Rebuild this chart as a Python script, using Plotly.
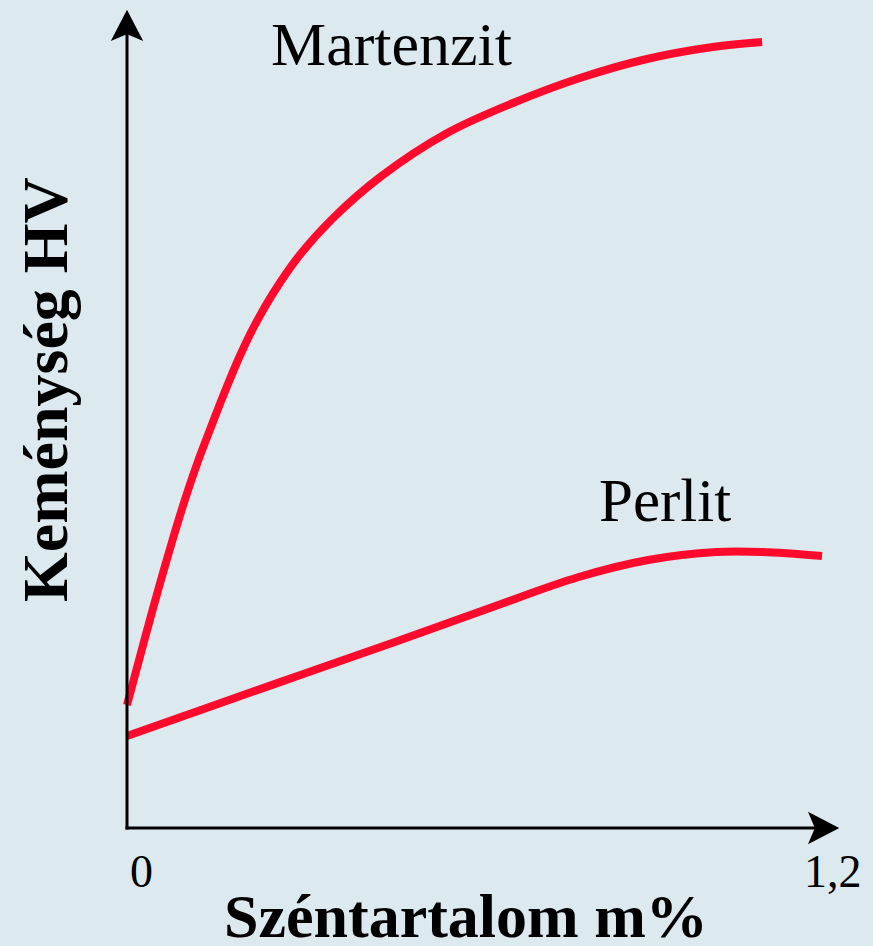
import plotly.graph_objects as go

# Carbon content (m%) and hardness (arbitrary HV scale)
martenzit_c = [0.0, 0.031, 0.053, 0.077, 0.099, 0.121, 0.145, 0.167, 0.192, 0.214,
               0.249, 0.294, 0.351, 0.431, 0.545, 0.657, 0.771, 0.885, 0.997, 1.081]
martenzit_hv = [123, 191, 238, 287, 329, 367, 404, 437, 472, 499,
                535, 573, 610, 651, 695, 725, 750, 769, 781, 786]

perlit_c = [0.0, 0.145, 0.300, 0.456, 0.613, 0.769, 0.887, 1.003, 1.081, 1.183]
perlit_hv = [92, 122, 154, 186, 219, 251, 268, 276, 276, 272]

x_tick_labels = ["0", "1,2"]
x_tick_values = [0.0, 1.2]

BG = "#dce9ee"
RED = "#ff0a2c"
FONT = "Liberation Serif"

# pixel -> data helpers (layout only)
PX_PER_C = 587.5
X0_PX = 127
Y0_PX = 828

def cx(px):
    return (px - X0_PX) / PX_PER_C

def hy(py):
    return Y0_PX - py

def pth(points):
    return "M" + "L".join(f"{cx(a):.5f},{hy(b):.3f}" for a, b in points) + "Z"

fig = go.Figure()
fig.add_trace(go.Scatter(x=martenzit_c, y=martenzit_hv, mode="lines", name="Martenzit",
                         line=dict(color=RED, width=8, shape="spline", smoothing=1.0)))
fig.add_trace(go.Scatter(x=perlit_c, y=perlit_hv, mode="lines", name="Perlit",
                         line=dict(color=RED, width=8, shape="spline", smoothing=1.0)))

shapes = [
    # axis lines
    dict(type="line", xref="x", yref="y", x0=0, y0=hy(Y0_PX + 1.5), x1=0, y1=hy(30),
         line=dict(color="black", width=3), layer="above"),
    dict(type="line", xref="x", yref="y", x0=cx(X0_PX - 1.5), y0=0, x1=cx(818), y1=0,
         line=dict(color="black", width=3), layer="above"),
    # arrowheads (filled darts)
    dict(type="path", xref="x", yref="y",
         path=pth([(127, 12), (141, 39), (127, 33), (113, 39)]),
         fillcolor="black", line=dict(color="black", width=2), layer="above"),
    dict(type="path", xref="x", yref="y",
         path=pth([(837, 828), (810, 842), (816, 828), (810, 814)]),
         fillcolor="black", line=dict(color="black", width=2), layer="above"),
]

annotations = []
# tick labels
tick_px = {0.0: 141, 1.2: 833}
for v, t in zip(x_tick_values, x_tick_labels):
    annotations.append(dict(x=cx(tick_px[v]), y=hy(871),
                            xref="x", yref="y", text=t, showarrow=False,
                            font=dict(family=FONT, size=46, color="black")))
# curve labels
annotations.append(dict(x=cx(391), y=hy(44), xref="x", yref="y", text="Martenzit",
                        showarrow=False, font=dict(family=FONT, size=62, color="black")))
annotations.append(dict(x=cx(665), y=hy(500), xref="x", yref="y", text="Perlit",
                        showarrow=False, font=dict(family=FONT, size=61, color="black")))
# axis titles
annotations.append(dict(x=cx(466), y=hy(916), xref="x", yref="y",
                        text="<b>Széntartalom m%</b>", showarrow=False,
                        font=dict(family=FONT, size=62, color="black")))
annotations.append(dict(x=cx(45), y=hy(390), xref="x", yref="y",
                        text="<b>Keménység HV</b>", showarrow=False, textangle=-90,
                        font=dict(family=FONT, size=64, color="black")))

fig.update_layout(
    width=873, height=946,
    margin=dict(l=0, r=0, t=0, b=0),
    paper_bgcolor=BG, plot_bgcolor=BG,
    showlegend=False,
    shapes=shapes,
    annotations=annotations,
    xaxis=dict(range=[cx(0), cx(873)], visible=False, fixedrange=True),
    yaxis=dict(range=[hy(946), hy(0)], visible=False, fixedrange=True),
)

fig.write_html("out.html",
               config={"displayModeBar": False},
               post_script="document.body.style.margin='0';document.body.style.overflow='hidden';"
                           "document.body.style.background='" + BG + "';")
